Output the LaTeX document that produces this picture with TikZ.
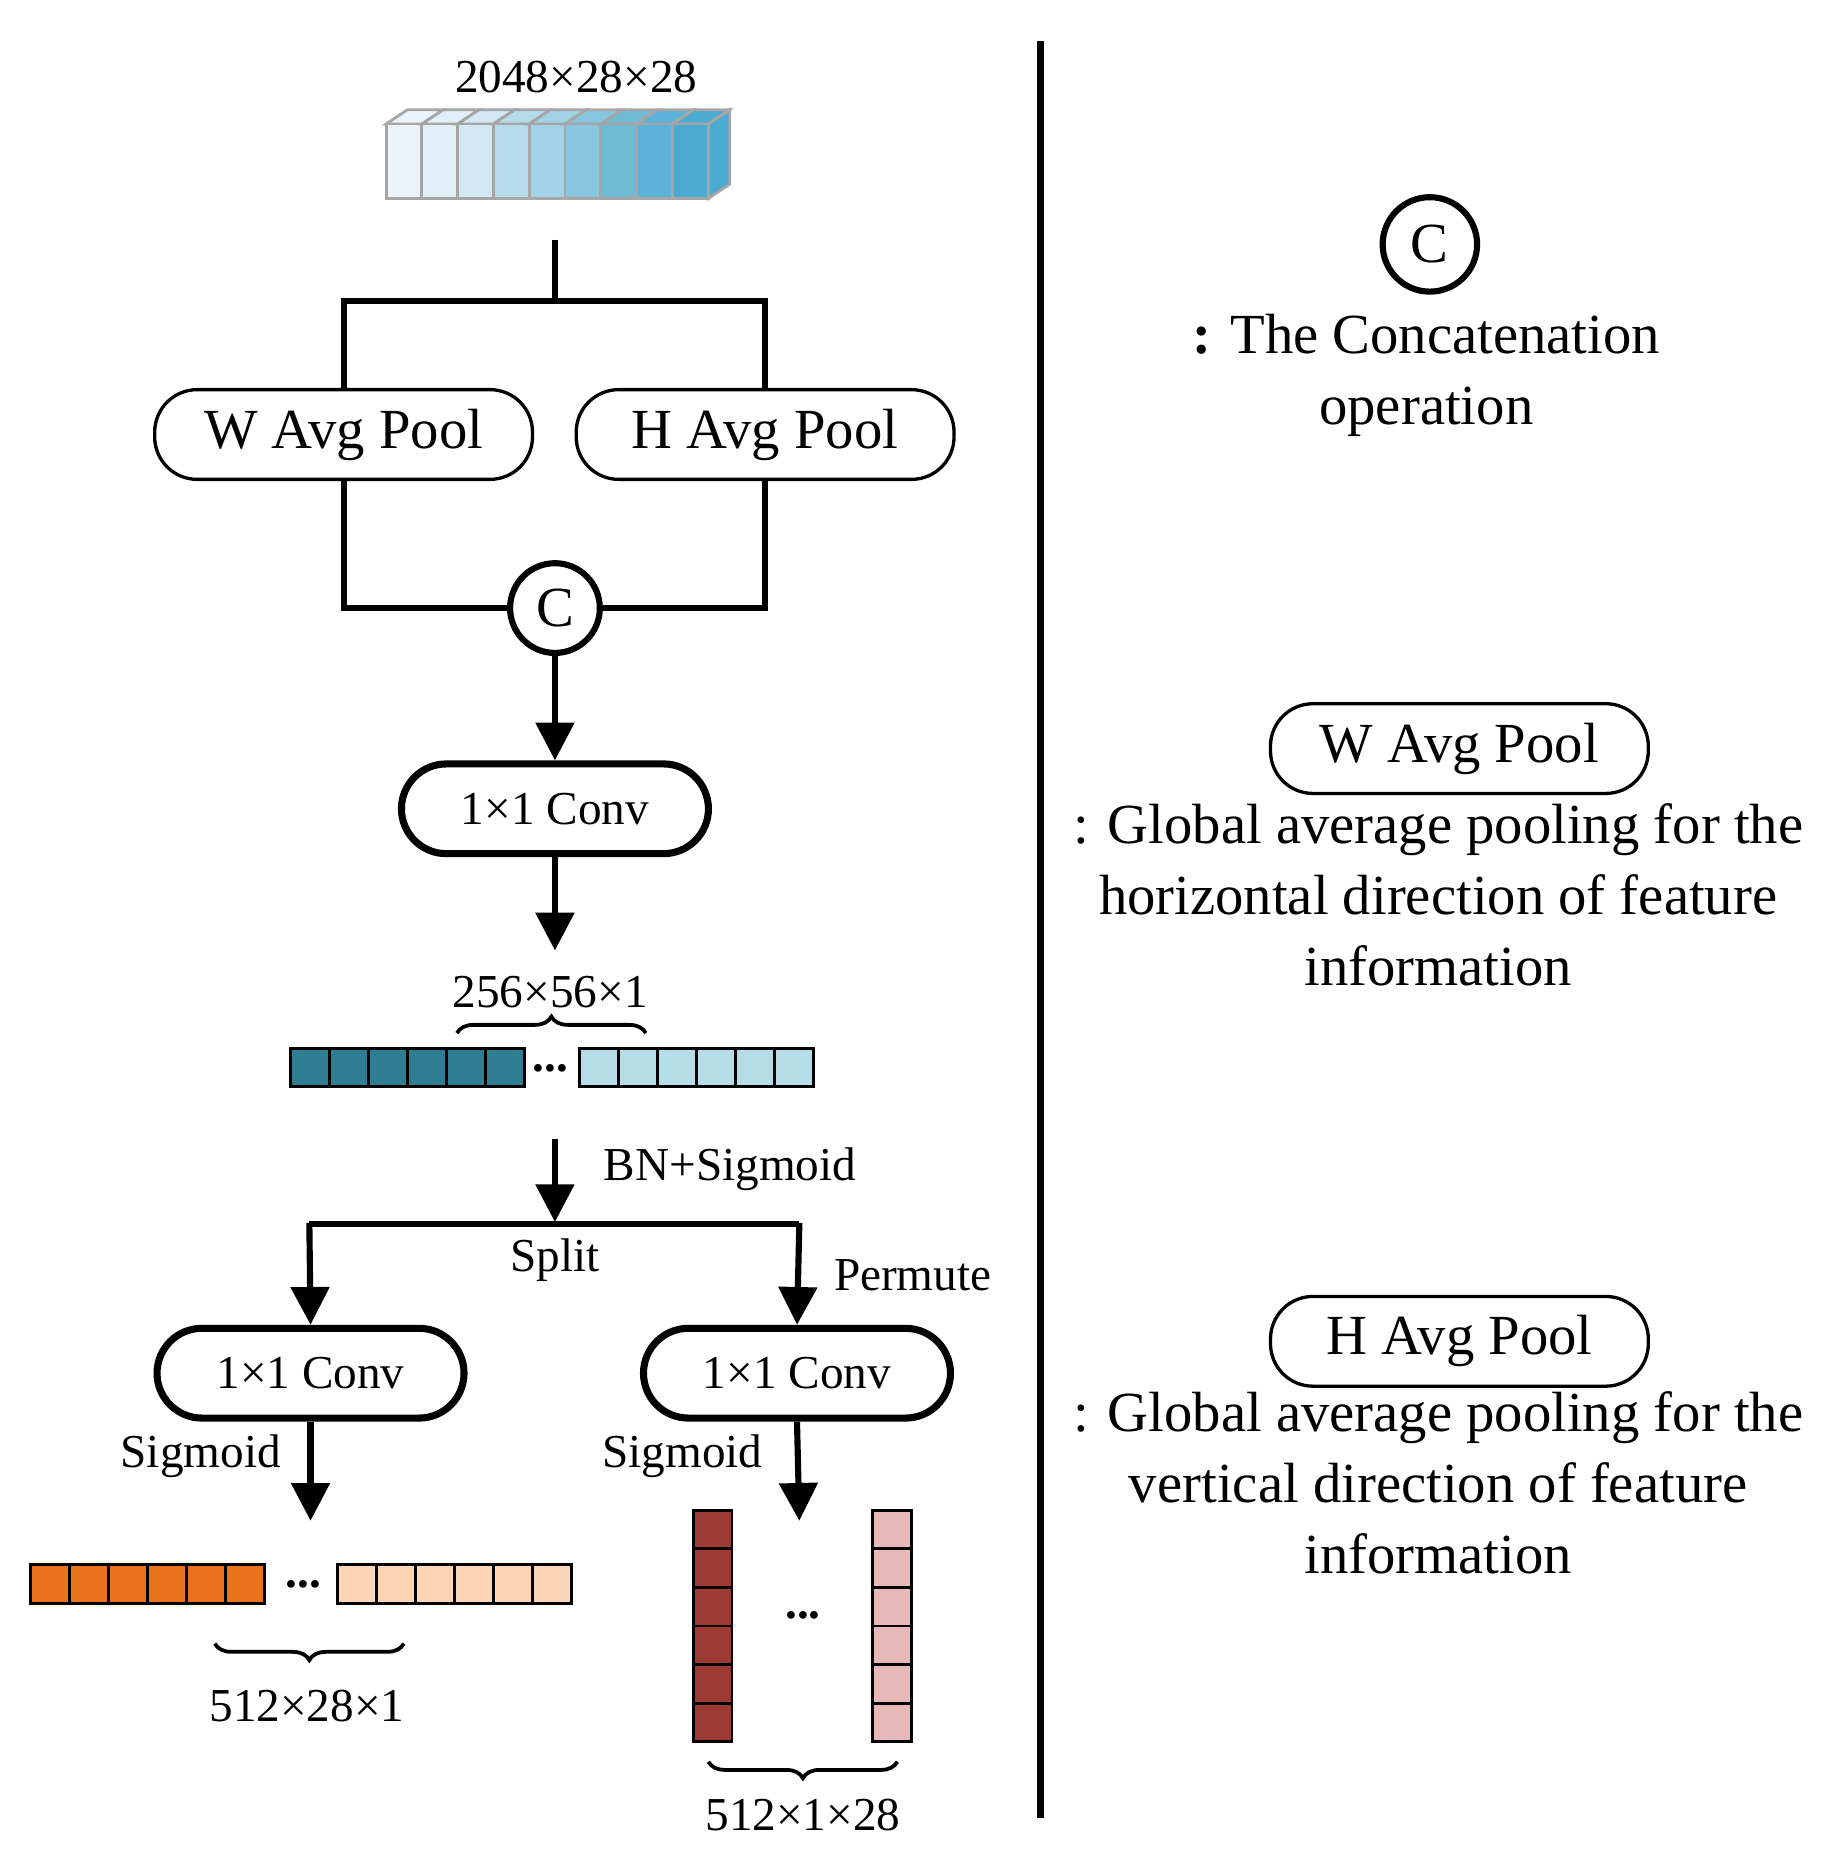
\documentclass[tikz,border=0pt]{standalone}
\usepackage{fontspec}
\setmainfont{Liberation Serif}
\usetikzlibrary{decorations.pathreplacing,arrows.meta}
\definecolor{cc0}{HTML}{EAF4FA}\definecolor{cc1}{HTML}{E1F0F7}\definecolor{cc2}{HTML}{D2E9F3}
\definecolor{cc3}{HTML}{B6DCEC}\definecolor{cc4}{HTML}{A2D2E7}\definecolor{cc5}{HTML}{88C6E0}
\definecolor{cc6}{HTML}{72BBD5}\definecolor{cc7}{HTML}{5DB2D9}\definecolor{cc8}{HTML}{4AAAD2}
\definecolor{teal1}{HTML}{2E7D92}\definecolor{teal2}{HTML}{B4DDE8}
\definecolor{or1}{HTML}{E8731A}\definecolor{or2}{HTML}{FBD5B5}
\definecolor{rd1}{HTML}{9E3A34}\definecolor{rd2}{HTML}{E6B8B7}
\begin{document}
\begin{tikzpicture}[x=0.5pt,y=-0.5pt,
 box/.style={draw,line width=1.4pt,rounded corners=18pt,minimum width=160pt,minimum height=38pt,font=\fontsize{24}{28}\selectfont,inner sep=0pt},
 conv/.style={draw,line width=3pt,rounded corners=19pt,minimum width=130pt,minimum height=38pt,font=\fontsize{20}{24}\selectfont,inner sep=0pt},
 circ/.style={draw,circle,line width=2.6pt,minimum size=38pt,inner sep=0pt,font=\fontsize{24}{28}\selectfont},
 ln/.style={line width=2.6pt},
 arr/.style={line width=2.6pt,-{Triangle[length=16pt,width=16pt]}},
 lbl/.style={font=\fontsize{20}{24}\selectfont,inner sep=0pt},
 leg/.style={font=\fontsize{24}{30}\selectfont,inner sep=0pt},
 br/.style={decorate,decoration={brace,amplitude=7pt},line width=1.6pt}]
\useasboundingbox (0,0) rectangle (1562,1577);
% top tensor
\node[lbl] (t) at (488,65) {2048×28×28};
\foreach \i in {0,...,8}{
 \pgfmathsetmacro\xa{327+\i*30.3}\pgfmathsetmacro\xb{\xa+30.3}
 \fill[cc\i,draw=gray!70,line width=1.2pt] (\xa,105) -- (\xa+18,93) -- (\xb+18,93) -- (\xb,105) -- cycle;
 \fill[cc\i,draw=gray!70,line width=1.2pt] (\xa,105) rectangle (\xb,168);}
\fill[cc8,draw=gray!70,line width=1.2pt] (600,105) -- (618,93) -- (618,156) -- (600,168) -- cycle;
\coordinate (s) at (470,203);
\node[box] (w) at (291,368) {W Avg Pool};
\node[box] (h) at (648,368) {H Avg Pool};
\node[circ] (c) at (470,515) {C};
\draw[ln] (s) -- (470,255) -| (w.north);
\draw[ln] (470,255) -| (h.north);
\draw[ln] (w.south) |- (c.west);
\draw[ln] (h.south) |- (c.east);
\node[conv] (c1) at (470,685) {1×1 Conv};
\draw[arr] (c.south) -- (c1.north);
\coordinate (a1) at (470,805);
\draw[arr] (c1.south) -- (a1);
% teal row
\node[lbl] (l1) at (466,840) {256×56×1};
\draw[br] (387,875) -- (547,875);
\foreach \i in {0,...,5}{
 \draw[fill=teal1,line width=1.2pt] (246+\i*33,888) rectangle (279+\i*33,920);
 \draw[fill=teal2,line width=1.2pt] (491+\i*33,888) rectangle (524+\i*33,920);}
\node[lbl] (d1) at (466,905) {\textbf{...}};
\coordinate (b0) at (470,965);\coordinate (b1) at (470,1035);
\draw[arr] (b0) -- (b1);
\node[lbl,anchor=west] (bn) at (511,990) {BN+Sigmoid};
\node[conv] (cl) at (263,1163) {1×1 Conv};
\node[conv] (cr) at (675,1163) {1×1 Conv};
\draw[ln] (262,1037) -- (677,1037);
\draw[arr] (262,1035.7) -- (cl.north);
\draw[arr] (677,1035.7) -- (cr.north);
\node[lbl] (sp) at (470,1067) {Split};
\node[lbl] (pm) at (773,1080) {Permute};
\coordinate (al) at (263,1288);\coordinate (ar) at (677,1288);
\draw[arr] (cl.south) -- (al);
\draw[arr] (cr.south) -- (ar);
\node[lbl] (sg1) at (170,1233) {Sigmoid};
\node[lbl] (sg2) at (578,1233) {Sigmoid};
% orange row
\foreach \i in {0,...,5}{
 \draw[fill=or1,line width=1.2pt] (26+\i*33,1325) rectangle (59+\i*33,1358);
 \draw[fill=or2,line width=1.2pt] (286+\i*33,1325) rectangle (319+\i*33,1358);}
\node[lbl] (d2) at (257,1342) {\textbf{...}};
\draw[br,decoration={mirror}] (182,1392) -- (342,1392);
\node[lbl] (l2) at (260,1445) {512×28×1};
% columns
\foreach \i in {0,...,5}{
 \draw[fill=rd1,line width=1.2pt] (587,1279+\i*32.7) rectangle (620,1311.7+\i*32.7);
 \draw[fill=rd2,line width=1.2pt] (739,1279+\i*32.7) rectangle (772,1311.7+\i*32.7);}
\node[lbl] (d3) at (680,1368) {\textbf{...}};
\draw[br,decoration={mirror}] (600,1492) -- (760,1492);
\node[lbl] (l3) at (680,1537) {512×1×28};
% divider
\draw[line width=3pt] (881,35) -- (881,1540);
% legend
\node[circ,minimum size=40pt] (lc) at (1211,207) {C};
\node[leg,align=center] (lt) at (1208,318) {\textbf{:} The Concatenation\\operation};
\node[box] (lw) at (1236,634) {W Avg Pool};
\node[leg,align=center] (ltw) at (1218,758) {: Global average pooling for the\\horizontal direction of feature\\information};
\node[box] (lh) at (1236,1136) {H Avg Pool};
\node[leg,align=center] (lth) at (1218,1256) {: Global average pooling for the\\vertical direction of feature\\information};
\end{tikzpicture}
\end{document}
